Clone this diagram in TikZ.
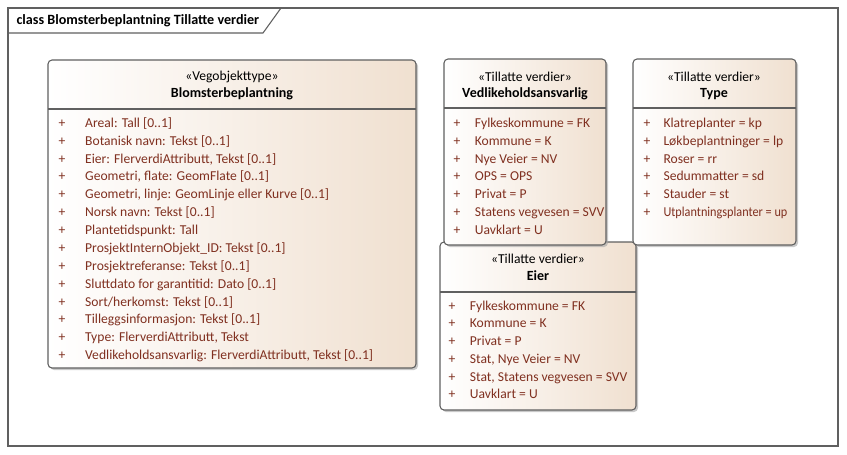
\documentclass[tikz,border=0pt]{standalone}
\usepackage{fontspec}
\setmainfont{Carlito}
\usetikzlibrary{shadows}
\definecolor{attrtext}{RGB}{128,48,32}
\definecolor{boxtan}{RGB}{240,224,208}
\definecolor{boxline}{RGB}{96,96,96}

\begin{document}
\begin{tikzpicture}[x=0.75pt,y=-0.75pt,line width=0.8pt,
  classbox/.style={draw=boxline,rounded corners=3pt,left color=white,right color=boxtan,
    drop shadow={shadow xshift=1.5pt,shadow yshift=-1.5pt,fill=black!35,opacity=0.6}},
  stereo/.style={inner sep=0pt,font=\fontsize{10.2}{12}\selectfont},
  cname/.style={inner sep=0pt,font=\bfseries\fontsize{10.5}{12}\selectfont},
  attr/.style={anchor=west,inner sep=0pt,text=attrtext,font=\fontsize{10.2}{12}\selectfont,
    text height=7pt,text depth=2pt}]
\useasboundingbox[fill=white] (0,0) rectangle (847,454);
% diagram frame with name tab
\draw[boxline] (8,8) rectangle (838,446);
\draw[boxline] (8,33) -- (263,33) -- (281,8);
\node[anchor=west,inner sep=0pt,font=\bfseries\fontsize{10.6}{12}\selectfont] (title) at (16,21)
  {class Blomsterbeplantning Tillatte verdier};
% vegobjekttype
\draw[classbox] (48,60) rectangle (416,368);
\draw[boxline] (48,109) -- (416,109);
\node[stereo] (blomS) at (232,77) {«Vegobjekttype»};
\node[cname] (blomN) at (232,94) {Blomsterbeplantning};
\node[attr] (b1) at (58,124) {\makebox[20pt][l]{+}Areal: Tall [0..1]};
\node[attr] (b2) at (58,142) {\makebox[20pt][l]{+}Botanisk navn: Tekst [0..1]};
\node[attr] (b3) at (58,160) {\makebox[20pt][l]{+}Eier: FlerverdiAttributt, Tekst [0..1]};
\node[attr] (b4) at (58,177) {\makebox[20pt][l]{+}Geometri, flate: GeomFlate [0..1]};
\node[attr] (b5) at (58,195) {\makebox[20pt][l]{+}Geometri, linje: GeomLinje eller Kurve [0..1]};
\node[attr] (b6) at (58,213) {\makebox[20pt][l]{+}Norsk navn: Tekst [0..1]};
\node[attr] (b7) at (58,231) {\makebox[20pt][l]{+}Plantetidspunkt: Tall};
\node[attr] (b8) at (58,249) {\makebox[20pt][l]{+}ProsjektInternObjekt\_ID: Tekst [0..1]};
\node[attr] (b9) at (58,267) {\makebox[20pt][l]{+}Prosjektreferanse: Tekst [0..1]};
\node[attr] (b10) at (58,285) {\makebox[20pt][l]{+}Sluttdato for garantitid: Dato [0..1]};
\node[attr] (b11) at (58,303) {\makebox[20pt][l]{+}Sort/herkomst: Tekst [0..1]};
\node[attr] (b12) at (58,320) {\makebox[20pt][l]{+}Tilleggsinformasjon: Tekst [0..1]};
\node[attr] (b13) at (58,338) {\makebox[20pt][l]{+}Type: FlerverdiAttributt, Tekst};
\node[attr] (b14) at (58,356) {\makebox[20pt][l]{+}Vedlikeholdsansvarlig: FlerverdiAttributt, Tekst [0..1]};
% eier (under vedlikeholdsansvarlig)
\draw[classbox] (440,242) rectangle (636,410);
\draw[boxline] (440,292) -- (636,292);
\node[stereo] (eierS) at (538,259) {«Tillatte verdier»};
\node[cname] (eierN) at (538,276) {Eier};
\node[attr] (e1) at (448,307) {\makebox[16pt][l]{+}Fylkeskommune = FK};
\node[attr] (e2) at (448,324) {\makebox[16pt][l]{+}Kommune = K};
\node[attr] (e3) at (448,342) {\makebox[16pt][l]{+}Privat = P};
\node[attr] (e4) at (448,360) {\makebox[16pt][l]{+}Stat, Nye Veier = NV};
\node[attr] (e5) at (448,378) {\makebox[16pt][l]{+}Stat, Statens vegvesen = SVV};
\node[attr] (e6) at (448,395) {\makebox[16pt][l]{+}Uavklart = U};
% vedlikeholdsansvarlig
\draw[classbox] (444,59) rectangle (606,245);
\draw[boxline] (444,108) -- (606,108);
\node[stereo] (vedlS) at (525,77) {«Tillatte verdier»};
\node[cname] (vedlN) at (525,94) {Vedlikeholdsansvarlig};
\node[attr] (v1) at (453,124) {\makebox[16pt][l]{+}Fylkeskommune = FK};
\node[attr] (v2) at (453,142) {\makebox[16pt][l]{+}Kommune = K};
\node[attr] (v3) at (453,160) {\makebox[16pt][l]{+}Nye Veier = NV};
\node[attr] (v4) at (453,177) {\makebox[16pt][l]{+}OPS = OPS};
\node[attr] (v5) at (453,195) {\makebox[16pt][l]{+}Privat = P};
\node[attr] (v6) at (453,213) {\makebox[16pt][l]{+}Statens vegvesen = SVV};
\node[attr] (v7) at (453,231) {\makebox[16pt][l]{+}Uavklart = U};
% type
\draw[classbox] (633,59) rectangle (796,245);
\draw[boxline] (633,108) -- (796,108);
\node[stereo] (typeS) at (714,77) {«Tillatte verdier»};
\node[cname] (typeN) at (714,94) {Type};
\node[attr] (t1) at (643,124) {\makebox[15pt][l]{+}Klatreplanter = kp};
\node[attr] (t2) at (643,142) {\makebox[15pt][l]{+}Løkbeplantninger = lp};
\node[attr] (t3) at (643,160) {\makebox[15pt][l]{+}Roser = rr};
\node[attr] (t4) at (643,177) {\makebox[15pt][l]{+}Sedummatter = sd};
\node[attr] (t5) at (643,195) {\makebox[15pt][l]{+}Stauder = st};
% squeezed, as in the original
\node[attr] (t6) at (643,213) {\makebox[15pt][l]{+}\scalebox{0.9}[1]{Utplantningsplanter = up}};
\end{tikzpicture}
\end{document}
